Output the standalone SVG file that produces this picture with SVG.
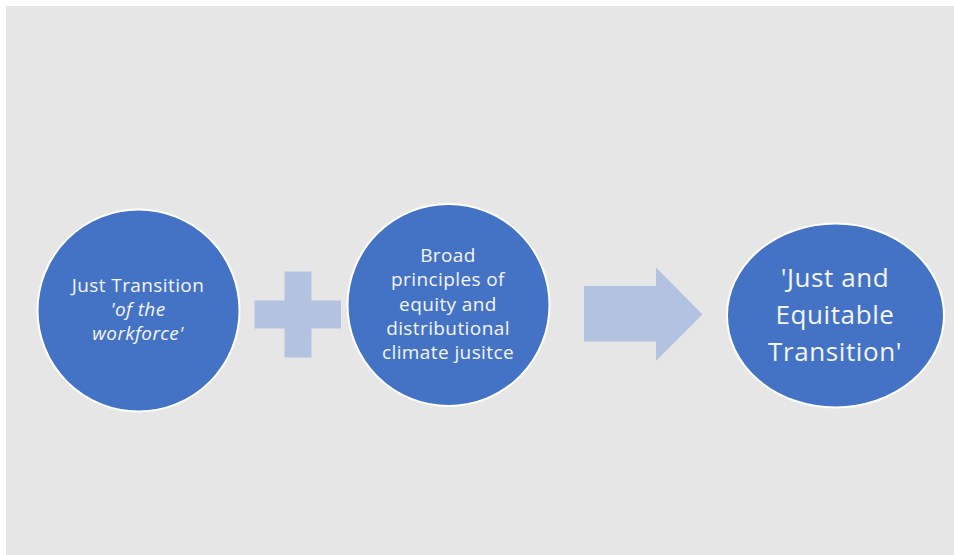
<svg xmlns="http://www.w3.org/2000/svg" width="954" height="555" viewBox="0 0 954 555">
<style>
.node{fill:#4472c4;stroke:#ffffff;stroke-width:2}
.shape{fill:#b4c2e2}
.t{font-family:"Open Sans","Noto Sans","Liberation Sans",sans-serif;fill:#f4f6fb;text-anchor:middle}
.s{font-size:19px;letter-spacing:0.4px}
.l{font-size:26px;letter-spacing:0.6px}
</style>
<rect x="0" y="0" width="954" height="555" fill="#ffffff"/>
<rect x="6" y="6" width="948" height="549" fill="#e6e6e6"/>
<g id="connectors">
<path class="shape" d="M254.5,300.5 H284.5 V271.5 H311.5 V300.5 H341 V328.5 H311.5 V357.5 H284.5 V328.5 H254.5 Z"/>
<path class="shape" d="M584,286 H656 V267.5 L702.5,314.5 L656,361 V341.5 H584 Z"/>
</g>
<g id="node1">
<circle class="node" cx="138.5" cy="310.5" r="101"/>
<text class="t s" x="138" y="292">Just Transition</text>
<text class="t s" x="138" y="316" font-style="italic">'of the</text>
<text class="t s" x="138" y="340" font-style="italic">workforce'</text>
</g>
<g id="node2">
<circle class="node" cx="448.5" cy="305" r="101"/>
<text class="t s" x="448" y="262">Broad</text>
<text class="t s" x="448" y="286">principles of</text>
<text class="t s" x="448" y="311">equity and</text>
<text class="t s" x="448" y="335">distributional</text>
<text class="t s" x="448" y="359">climate jusitce</text>
</g>
<g id="node3">
<ellipse class="node" cx="835.5" cy="315.5" rx="108.5" ry="92"/>
<text class="t l" x="835" y="287">'Just and</text>
<text class="t l" x="835" y="324">Equitable</text>
<text class="t l" x="835" y="361">Transition'</text>
</g>
</svg>
